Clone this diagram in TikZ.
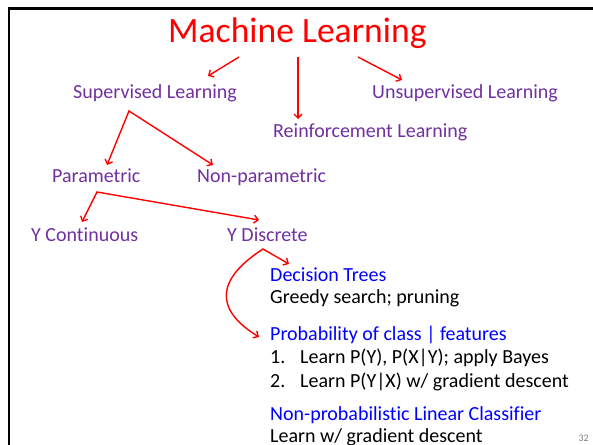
\documentclass[tikz,border=0pt]{standalone}
\usepackage{fontspec}
\setmainfont[Ligatures=NoCommon]{Carlito}
\usetikzlibrary{arrows.meta}
\definecolor{mlpurple}{RGB}{112,48,160}
\definecolor{mlblue}{RGB}{0,0,255}
\begin{document}
\begin{tikzpicture}[x=1pt,y=-1pt,
  txt/.style={anchor=base west,inner sep=0pt,font=\fontsize{20}{24}\selectfont},
  cat/.style={txt,text=mlpurple},
  headtxt/.style={txt,text=mlblue},
  bodytxt/.style={txt,text=black},
  arr/.style={draw=red,line width=1.4pt,-{Straight Barb[length=4pt,width=8pt]}},
  twoarr/.style={draw=red,line width=1.4pt,{Straight Barb[length=4pt,width=8pt]}-{Straight Barb[length=4pt,width=8pt]}}]
\useasboundingbox (0,0) rectangle (593,444);
\draw[line width=2.6pt] (9,446) -- (9,8.5) -- (595,8.5);
% title
\node[txt,text=red,font=\fontsize{35.6}{40}\selectfont] (ml) at (168,43) {Machine Learning};
% level 1
\node[cat] (sup) at (73,98) {Supervised Learning};
\node[cat] (uns) at (372,98) {Unsupervised Learning};
\node[cat] (rei) at (273,137) {Reinforcement Learning};
% level 2
\node[cat] (par) at (52,182) {Parametric};
\node[cat] (npar) at (197,182) {Non-parametric};
% level 3
\node[cat] (ycon) at (31,241) {Y Continuous};
\node[cat] (ydis) at (227,241) {Y Discrete};
% methods
\node[headtxt] (dt) at (270,281) {Decision Trees};
\node[bodytxt] (dtb) at (270,303) {Greedy search; pruning};
\node[headtxt] (prob) at (270,340) {Probability of class | features};
\node[bodytxt] (n1) at (270,363) {1.};
\node[bodytxt] (l1) at (300,363) {Learn P(Y), P(X|Y); apply Bayes};
\node[bodytxt] (n2) at (270,387) {2.};
\node[bodytxt] (l2) at (300,387) {Learn P(Y|X) w/ gradient descent};
\node[headtxt] (nplc) at (270,420) {Non-probabilistic Linear Classifier};
\node[bodytxt] (nplcb) at (270,442) {Learn w/ gradient descent};
\node[anchor=base east,inner sep=0pt,font=\fontsize{10}{12}\selectfont,text=gray] (pg) at (589,441) {32};
% connector points
\coordinate (mlL) at (239,57);
\coordinate (mlM) at (298,57);
\coordinate (mlR) at (358,57);
\coordinate (supE) at (208,76);
\coordinate (reiE) at (298,119);
\coordinate (unsE) at (402,80);
\coordinate (supApex) at (129,111);
\coordinate (parE) at (107,165);
\coordinate (nparE) at (213,165);
\coordinate (parApex) at (97,192);
\coordinate (yconE) at (82,222);
\coordinate (ydisE) at (259,220);
\coordinate (ydApex) at (263,249);
\coordinate (dtE) at (289,264);
\coordinate (probE) at (259,337);
% connectors
\draw[arr] (mlL) -- (supE);
\draw[arr] (mlM) -- (reiE);
\draw[arr] (mlR) -- (unsE);
\draw[twoarr] (parE) -- (supApex) -- (nparE);
\draw[twoarr] (yconE) -- (parApex) -- (ydisE);
\draw[twoarr] (dtE) -- (ydApex) .. controls (215,280) and (215,310) .. (probE);
\end{tikzpicture}
\end{document}
